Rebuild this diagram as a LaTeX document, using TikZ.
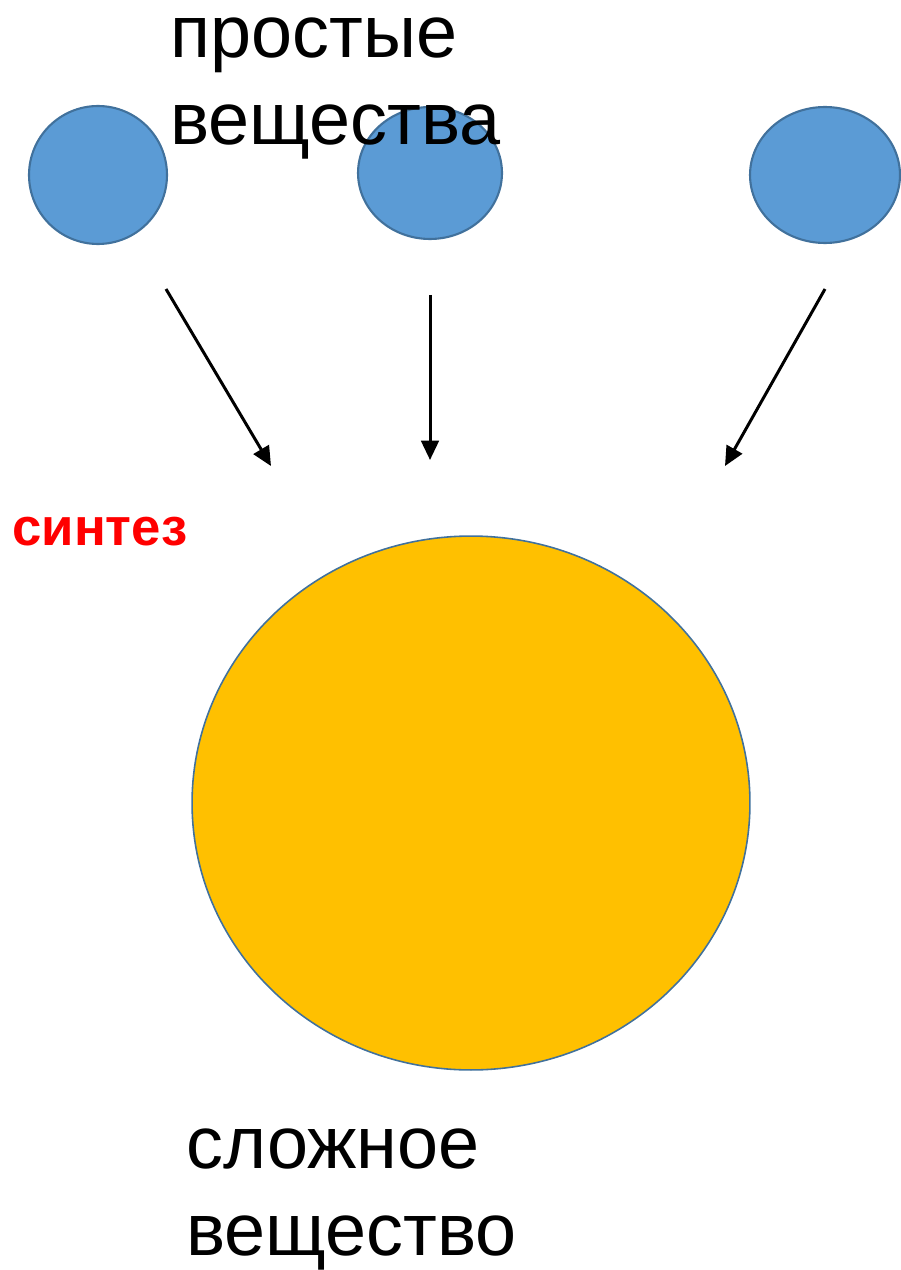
\documentclass[tikz,border=0pt]{standalone}
\usepackage{fontspec}
\setmainfont{Liberation Sans}
\usetikzlibrary{arrows.meta,shapes.geometric}
\definecolor{atomblue}{RGB}{91,155,213}
\definecolor{atomborder}{RGB}{65,113,156}
\definecolor{mixgold}{RGB}{255,192,0}
\definecolor{synred}{RGB}{255,0,0}
\tikzset{
  simplenode/.style={ellipse,draw=atomborder,fill=atomblue,line width=1.2pt,inner sep=0pt},
  complexnode/.style={ellipse,draw=atomborder,fill=mixgold,line width=0.9pt,inner sep=0pt},
  bigtext/.style={align=left,inner sep=0pt,font=\fontsize{42}{50}\selectfont},
  arr/.style={-{Triangle[length=11pt,width=10pt]},line width=1.7pt,black}
}
\begin{document}
\begin{tikzpicture}[x=0.02cm,y=-0.02cm]
  \useasboundingbox (0,0) rectangle (900,1270);

  %% simple substances
  \node[simplenode,minimum width=2.76cm,minimum height=2.76cm] (atomL) at (98,175) {};
  \node[simplenode,minimum width=2.88cm,minimum height=2.64cm] (atomM) at (430,173) {};
  \node[simplenode,minimum width=3.0cm,minimum height=2.72cm] (atomR) at (825,175) {};

  %% compound
  \node[complexnode,minimum width=11.16cm,minimum height=10.68cm] (compound) at (471,803) {};

  %% arrow ends
  \coordinate (startL) at (166,289);
  \coordinate (endL) at (271,466);
  \coordinate (startM) at (430,295);
  \coordinate (endM) at (430,460);
  \coordinate (startR) at (825,289);
  \coordinate (endR) at (725,466);

  \draw[arr] (startL) -- (endL);
  \draw[arr] (startM) -- (endM);
  \draw[arr] (startR) -- (endR);

  %% labels
  \node[bigtext,anchor=north west] (simpleLbl) at (170,17) {простые\\вещества};
  \node[inner sep=0pt,anchor=base west,text=synred,font=\fontsize{30}{34}\selectfont\bfseries] (synLbl) at (12,545) {синтез};
  \node[bigtext,anchor=north west] (complexLbl) at (186,1128) {сложное\\вещество};
\end{tikzpicture}
\end{document}
